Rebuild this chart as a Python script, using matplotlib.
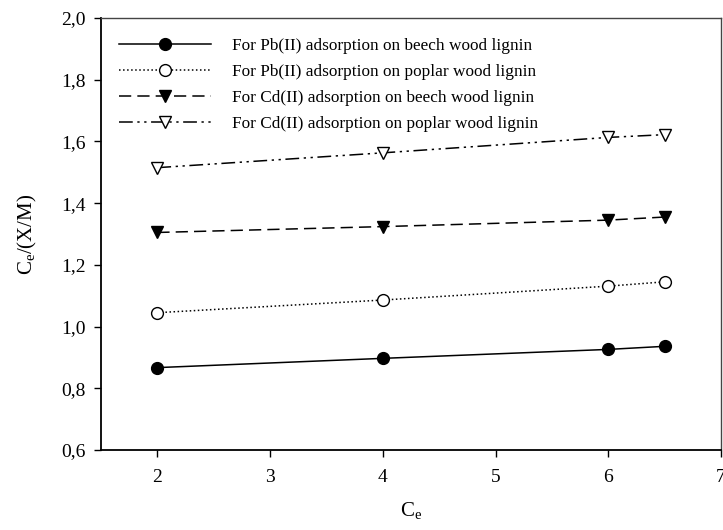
import matplotlib
matplotlib.use("Agg")
import matplotlib.pyplot as plt
from matplotlib.ticker import FuncFormatter

plt.rcParams['font.family'] = ['Liberation Serif', 'DejaVu Serif']
plt.rcParams['mathtext.fontset'] = 'custom'
plt.rcParams['mathtext.rm'] = 'Liberation Serif'
plt.rcParams['mathtext.it'] = 'Liberation Serif'

ce = [2, 4, 6, 6.5]
pb_beech = [0.867, 0.897, 0.926, 0.936]
pb_poplar = [1.045, 1.086, 1.131, 1.145]
cd_beech = [1.305, 1.324, 1.345, 1.355]
cd_poplar = [1.515, 1.563, 1.613, 1.622]
labels = [
    "For Pb(II) adsorption on beech wood lignin",
    "For Pb(II) adsorption on poplar wood lignin",
    "For Cd(II) adsorption on beech wood lignin",
    "For Cd(II) adsorption on poplar wood lignin",
]
xticks = [2, 3, 4, 5, 6, 7]
yticks = [0.6, 0.8, 1.0, 1.2, 1.4, 1.6, 1.8, 2.0]

fig = plt.figure(figsize=(7.23, 5.30), dpi=100)
ax = fig.add_axes([101/723, 1-450/530, (721-101)/723, (450-18)/530])

ms = 8.5
ax.plot(ce, pb_beech, '-', color='black', lw=1.1, marker='o', ms=ms,
        mfc='black', mec='black', label=labels[0])
ax.plot(ce, pb_poplar, ':', color='black', lw=1.1, marker='o', ms=ms,
        mfc='white', mec='black', label=labels[1])
ax.plot(ce, cd_beech, color='black', lw=1.1, ls=(0, (8, 4)), marker='v', ms=ms,
        mfc='black', mec='black', label=labels[2])
ax.plot(ce, cd_poplar, color='black', lw=1.1, ls=(0, (9, 3, 1.5, 3, 1.5, 3)),
        marker='v', ms=ms, mfc='white', mec='black', label=labels[3])

ax.set_xlim(1.5, 7)
ax.set_ylim(0.6, 2.0)
ax.set_xticks(xticks)
ax.set_yticks(yticks)
ax.yaxis.set_major_formatter(FuncFormatter(lambda v, p: f"{v:.1f}".replace('.', ',')))
ax.tick_params(direction='out', length=5, width=1, labelsize=14, pad=6)
ax.tick_params(axis='x', pad=9)
for s in ['left', 'bottom']:
    ax.spines[s].set_linewidth(1.3)
    ax.spines[s].set_color('black')
for s in ['top', 'right']:
    ax.spines[s].set_linewidth(1.0)
    ax.spines[s].set_color('#444444')

ax.set_xlabel(r"C$_\mathrm{e}$", fontsize=15, labelpad=10)
ax.set_ylabel(r"C$_\mathrm{e}$/(X/M)", fontsize=15, labelpad=16)

leg = ax.legend(loc='upper left', frameon=False, fontsize=12.4, handlelength=5.3,
                handletextpad=1.25, labelspacing=0.58, borderaxespad=0.3,
                bbox_to_anchor=(0.01, 0.982), markerscale=1.0, numpoints=1)

fig.savefig("out.png", dpi=100)
